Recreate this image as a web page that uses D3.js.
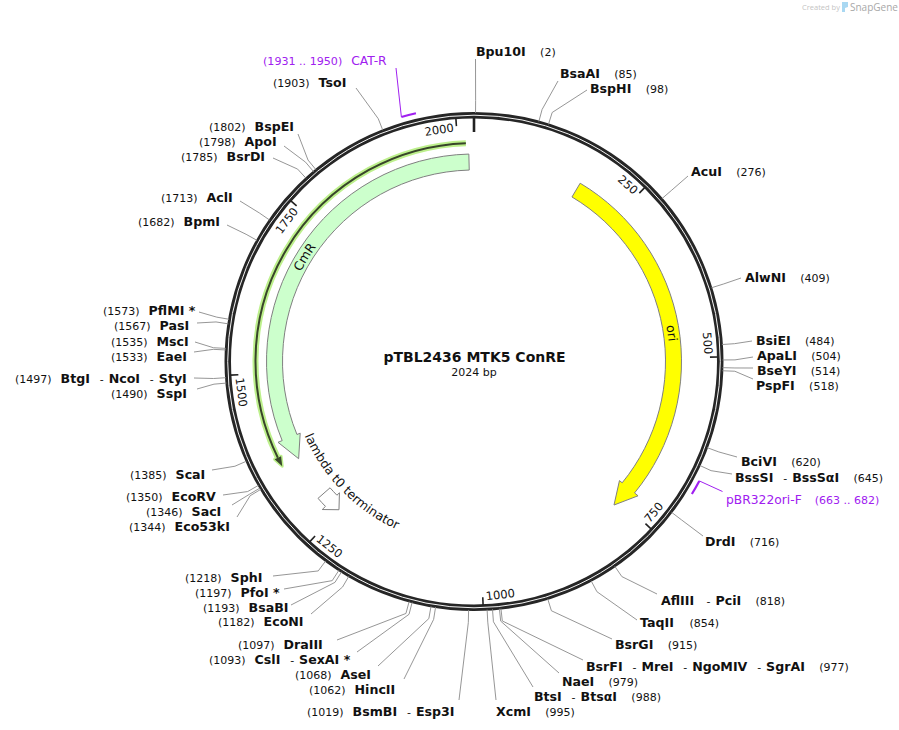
<!DOCTYPE html>
<html>
<head>
<meta charset="utf-8">
<title>pTBL2436 MTK5 ConRE</title>
<script src="https://cdn.jsdelivr.net/npm/d3@7"></script>
<style>
  html, body { margin: 0; padding: 0; background: #fff; }
  svg { display: block; }
  text { font-family: "DejaVu Sans", sans-serif; fill: #111; }
</style>
</head>
<body>
<div id="map"></div>
<script>
  var plasmidName = "pTBL2436 MTK5 ConRE";
  var plasmidLength = 2024;

  var siteNames = ["Bpu10I", "BsaAI", "BspHI", "AcuI", "AlwNI", "BsiEI", "ApaLI", "BseYI", "PspFI", "BciVI",
    "BssSI - BssSαI", "DrdI", "AflIII - PciI", "TaqII", "BsrGI", "BsrFI - MreI - NgoMIV - SgrAI", "NaeI",
    "BtsI - BtsαI", "XcmI", "BsmBI - Esp3I", "HincII", "AseI", "CslI - SexAI *", "DraIII", "EcoNI", "BsaBI",
    "PfoI *", "SphI", "Eco53kI", "SacI", "EcoRV", "ScaI", "SspI", "BtgI - NcoI - StyI", "EaeI", "MscI", "PasI",
    "PflMI *", "BpmI", "AclI", "BsrDI", "ApoI", "BspEI", "TsoI"];
  var sitePositions = [2, 85, 98, 276, 409, 484, 504, 514, 518, 620,
    645, 716, 818, 854, 915, 977, 979,
    988, 995, 1019, 1062, 1068, 1093, 1097, 1182, 1193,
    1197, 1218, 1344, 1346, 1350, 1385, 1490, 1497, 1533, 1535, 1567,
    1573, 1682, 1713, 1785, 1798, 1802, 1903];

  var featureNames = ["ori", "CmR", "lambda t0 terminator"];
  var featureTails = [173, 2016, 1286];
  var featureHeadBases = [727, 1392, 1269];
  var featureTips = [763, 1355, 1250];
  var featureLabelAt = [460, 1696, 1268];

  var cmrOrfStart = 2012;
  var cmrOrfEnd = 1357;

  var primerNames = ["pBR322ori-F", "CAT-R"];
  var primerStarts = [663, 1931];
  var primerEnds = [682, 1950];

  var tickValues = [250, 500, 750, 1000, 1250, 1500, 1750, 2000];

  // where each site label sits on the page: text x, text middle y, leader end x, leader end y
  var siteSpots = [
    [476, 52, 475.5, 59], [560, 74, 558, 81], [590, 89, 587, 90], [691, 172, 688, 176], [745, 278, 741, 278],
    [756, 341, 752, 341], [757, 356, 753, 357], [757, 371, 753, 368], [756, 386, 753, 379], [741, 462, 737, 457],
    [735, 478, 732, 474], [705, 542, 703, 536], [661, 601, 657, 594], [640, 623, 637, 620], [615, 645, 612, 639],
    [586, 667, 583, 660], [562, 682, 559, 673], [534, 697, 533, 687], [496, 712, 496, 700],
    [307, 712, 459, 700], [309, 690, 404, 679], [295, 675, 378, 666], [209, 660, 357, 652], [238, 645, 337, 640],
    [218, 622, 311, 614], [203, 608, 291, 605], [195, 593, 284, 589], [185, 578, 273, 576], [129, 527, 237, 517],
    [146, 512, 232, 505], [126, 497, 223, 495], [130, 475, 212, 470], [111, 394, 197, 389], [15, 379, 194, 378],
    [111, 357, 194, 352], [111, 342, 195, 342], [114, 326, 197, 323], [103, 311, 199, 312], [138, 222, 227, 225],
    [161, 198, 240, 201], [181, 157, 273, 158], [199, 142, 284, 146], [209, 127, 298, 134], [273, 83, 356, 88]
  ];
  // primer label x, middle y, leader end x, leader end y
  var primerSpots = [[726, 500, 722.5, 491.5], [263, 61, 396, 68]];

  var width = 899, height = 730;
  var cx = 474, cy = 361.5;
  var ringOuter = 249.5, ringInner = 243, ringMid = 246.3;
  var elbowRadius = 261;
  var bandInner = 191.5, bandOuter = 207.5;
  var headInner = 188, headOuter = 212, tipRadius = 200.5;
  var purple = "#a020f0";
  var baselineShift = 3.8;

  var featureFills = ["#ffff00", "#ccffcc", "#ffffff"];

  var angle = d3.scaleLinear().domain([0, plasmidLength]).range([0, 2 * Math.PI]);

  function toPage(pos, r) {
    var p = d3.pointRadial(angle(pos), r);
    return [cx + p[0], cy + p[1]];
  }

  var svg = d3.select("#map").append("svg")
    .attr("width", width)
    .attr("height", height);

  var plot = svg.append("g").attr("transform", "translate(" + cx + "," + cy + ")");
  var lineGen = d3.line();

  // leaders go under the ring
  sitePositions.forEach(function (pos, i) {
    var spot = siteSpots[i];
    svg.append("path")
      .attr("d", lineGen([toPage(pos, ringOuter - 1), toPage(pos, elbowRadius), [spot[2], spot[3]]]))
      .attr("fill", "none")
      .attr("stroke", "#8a8a8a")
      .attr("stroke-width", 0.9);
  });

  // backbone
  plot.append("circle").attr("r", (ringOuter + ringInner) / 2)
    .attr("fill", "none").attr("stroke", "#262626").attr("stroke-width", ringOuter - ringInner);
  plot.append("circle").attr("r", ringMid)
    .attr("fill", "none").attr("stroke", "#f4f4f4").attr("stroke-width", 1);

  // zero mark
  svg.append("path")
    .attr("d", lineGen([toPage(0, ringInner + 1), toPage(0, 229.5)]))
    .attr("stroke", "#222").attr("stroke-width", 2.6);

  // numbered ticks
  tickValues.forEach(function (t) {
    svg.append("path")
      .attr("d", lineGen([toPage(t, ringInner + 1), toPage(t, 236)]))
      .attr("stroke", "#222").attr("stroke-width", 1.6);

    var label = svg.append("text")
      .attr("font-size", 11.5)
      .attr("text-anchor", "middle")
      .attr("dy", "0.36em")
      .text(t);
    var half = label.node().getComputedTextLength() / 2 + 3;
    var at = t - half / 235 / (2 * Math.PI) * plasmidLength;
    var p = toPage(at, 234.5);
    var deg = at / plasmidLength * 360;
    var rot = deg < 100 ? deg : (deg < 270 ? deg - 180 : deg - 360);
    label.attr("transform", "translate(" + p[0] + "," + p[1] + ") rotate(" + rot + ")");
  });

  // feature arrows
  function arrowPath(tail, base, tip) {
    var ccw = tip < tail;
    var a0 = angle(tail) - Math.PI / 2;
    var a1 = angle(base) - Math.PI / 2;
    var p = d3.path();
    var start = d3.pointRadial(angle(tail), bandOuter);
    var hOut = d3.pointRadial(angle(base), headOuter);
    var hTip = d3.pointRadial(angle(tip), tipRadius);
    var hIn = d3.pointRadial(angle(base), headInner);
    p.moveTo(start[0], start[1]);
    p.arc(0, 0, bandOuter, a0, a1, ccw);
    p.lineTo(hOut[0], hOut[1]);
    p.lineTo(hTip[0], hTip[1]);
    p.lineTo(hIn[0], hIn[1]);
    p.arc(0, 0, bandInner, a1, a0, !ccw);
    p.closePath();
    return p.toString();
  }

  featureNames.forEach(function (name, i) {
    plot.append("path")
      .attr("d", arrowPath(featureTails[i], featureHeadBases[i], featureTips[i]))
      .attr("fill", featureFills[i])
      .attr("stroke", "#808080")
      .attr("stroke-width", 1);
  });

  // CmR translation, a thin arrow outside the band
  var orfRadius = 218.5;
  var orfHeadBase = cmrOrfEnd + 14;
  function orfArc() {
    var p = d3.path();
    var s = d3.pointRadial(angle(cmrOrfStart), orfRadius);
    p.moveTo(s[0], s[1]);
    p.arc(0, 0, orfRadius, angle(cmrOrfStart) - Math.PI / 2, angle(orfHeadBase) - Math.PI / 2, true);
    return p.toString();
  }
  var orfHead = lineGen([
    d3.pointRadial(angle(orfHeadBase), orfRadius - 3.6),
    d3.pointRadial(angle(cmrOrfEnd), orfRadius),
    d3.pointRadial(angle(orfHeadBase), orfRadius + 3.6)
  ]) + "Z";
  plot.append("path").attr("d", orfArc()).attr("fill", "none")
    .attr("stroke", "#bdf08c").attr("stroke-width", 6);
  plot.append("path").attr("d", orfHead).attr("fill", "#bdf08c")
    .attr("stroke", "#bdf08c").attr("stroke-width", 3).attr("stroke-linejoin", "round");
  plot.append("path").attr("d", orfArc()).attr("fill", "none")
    .attr("stroke", "#38452a").attr("stroke-width", 2);
  plot.append("path").attr("d", orfHead).attr("fill", "#38452a");

  // feature names follow the arc
  var defs = svg.append("defs");
  var labelRadii = [195.5, 195, 185];
  var labelSpans = [60, 90, 190];
  featureNames.forEach(function (name, i) {
    var at = featureLabelAt[i];
    var ccw = i === 2;
    var from = ccw ? at + labelSpans[i] : at - labelSpans[i];
    var to = ccw ? at - labelSpans[i] : at + labelSpans[i];
    var p = d3.path();
    var s = d3.pointRadial(angle(from), labelRadii[i]);
    p.moveTo(s[0], s[1]);
    p.arc(0, 0, labelRadii[i], angle(from) - Math.PI / 2, angle(to) - Math.PI / 2, ccw);
    defs.append("path").attr("id", "flabel" + i).attr("d", p.toString());
    plot.append("text")
      .attr("font-size", 12.5)
      .attr("text-anchor", "middle")
      .append("textPath")
      .attr("href", "#flabel" + i)
      .attr("startOffset", "50%")
      .text(name);
  });

  // primers
  primerNames.forEach(function (name, i) {
    var p = d3.path();
    var a0 = angle(primerStarts[i]) - Math.PI / 2;
    var a1 = angle(primerEnds[i]) - Math.PI / 2;
    var s = d3.pointRadial(angle(primerStarts[i]), 255);
    p.moveTo(s[0], s[1]);
    p.arc(0, 0, 255, a0, a1, false);
    plot.append("path").attr("d", p.toString()).attr("fill", "none")
      .attr("stroke", purple).attr("stroke-width", 2.2);

    var spot = primerSpots[i];
    svg.append("path")
      .attr("d", lineGen([toPage(primerStarts[i], 255), [spot[2], spot[3]]]))
      .attr("fill", "none").attr("stroke", purple).attr("stroke-width", 1);

    var range = "(" + primerStarts[i] + " .. " + primerEnds[i] + ")";
    var text = svg.append("text").attr("x", spot[0]).attr("y", spot[1] + baselineShift).style("fill", purple);
    if (i === 0) {
      text.append("tspan").attr("font-size", 12.3).style("fill", purple).text(name);
      text.append("tspan").attr("font-size", 11).attr("dx", 13).style("fill", purple).text(range);
    } else {
      text.append("tspan").attr("font-size", 11.1).style("fill", purple).text(range);
      text.append("tspan").attr("font-size", 12.3).attr("dx", 9).style("fill", purple).text(name);
    }
  });

  // enzyme labels, number after the name on the right half and before it on the left.
  // The I in this font is narrower than the reference one, so gaps after a name grow a little
  function wideI(n) {
    return (n.match(/I/g) || []).length * 1.3;
  }

  function addName(text, names, firstDx) {
    var extra = 0;
    names.split(" - ").forEach(function (n, k) {
      if (k > 0) {
        text.append("tspan").attr("font-size", 11).attr("dx", 8.5 + extra).text("-");
      }
      text.append("tspan")
        .attr("font-size", 12.6)
        .attr("font-weight", "bold")
        .attr("dx", k > 0 ? 5 : firstDx)
        .text(n);
      extra = wideI(n);
    });
    return extra;
  }

  siteNames.forEach(function (name, i) {
    var spot = siteSpots[i];
    var text = svg.append("text").attr("x", spot[0]).attr("y", spot[1] + baselineShift);
    if (sitePositions[i] < plasmidLength / 2) {
      var extra = addName(text, name, 0);
      text.append("tspan").attr("font-size", 11).attr("dx", 13 + extra).text("(" + sitePositions[i] + ")");
    } else {
      text.append("tspan").attr("font-size", 11).text("(" + sitePositions[i] + ")");
      addName(text, name, 9);
    }
  });

  // title in the middle
  svg.append("text").attr("x", cx + 0.5).attr("y", 362)
    .attr("text-anchor", "middle")
    .attr("font-size", 14)
    .attr("font-weight", "bold")
    .text(plasmidName);
  svg.append("text").attr("x", cx).attr("y", 376)
    .attr("text-anchor", "middle")
    .attr("font-size", 11)
    .text(plasmidLength + " bp");

  // corner credit
  svg.append("text").attr("x", 802).attr("y", 10)
    .attr("font-size", 7.5).style("fill", "#c4c4c4").style("font-family", "'Open Sans', sans-serif")
    .text("Created by");
  svg.append("path")
    .attr("d", d3.line()([[842, 2], [848, 2], [848, 7], [845, 8], [845, 12], [842, 12]]) + "Z")
    .attr("fill", "#a9d8f2");
  svg.append("text").attr("x", 850).attr("y", 11)
    .attr("font-size", 10).style("fill", "#a8a8a8").style("font-family", "'Open Sans', sans-serif")
    .text("SnapGene");
</script>
</body>
</html>
